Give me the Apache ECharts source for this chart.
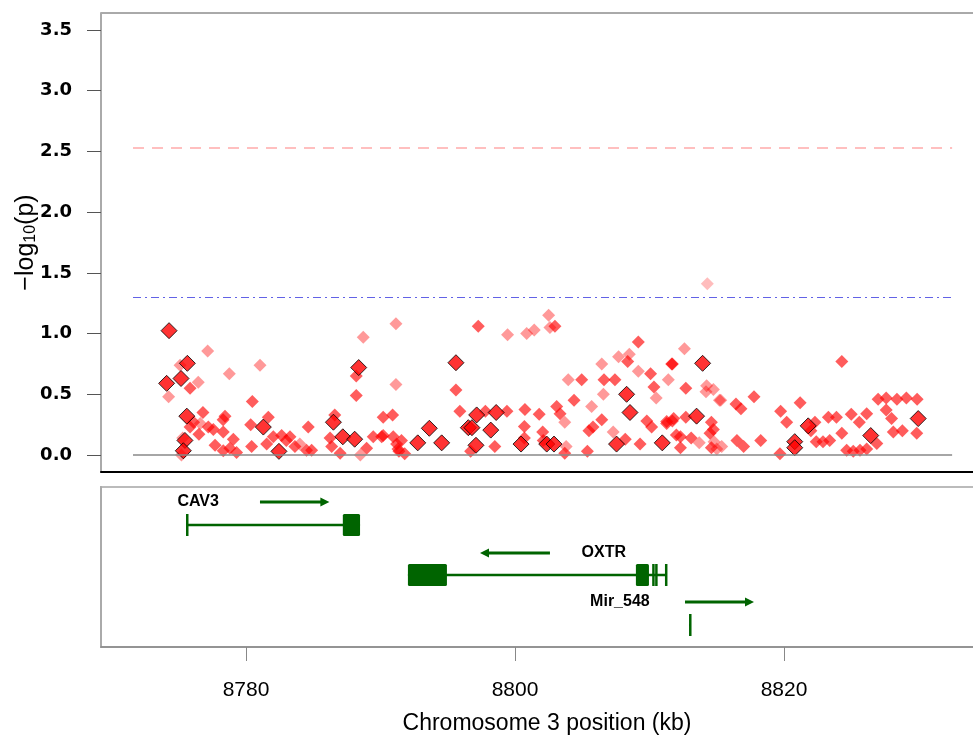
<!DOCTYPE html>
<html lang="en">
<head>
<meta charset="UTF-8">
<title>OXTR region association plot</title>
<script src="https://cdn.jsdelivr.net/npm/echarts@6/dist/echarts.min.js"></script>
<style>
  html, body { margin: 0; padding: 0; background: #fff; overflow: hidden; }
  /* plot box runs past the right edge of the window, as in the source figure */
  #chart { width: 1000px; height: 738px; }
</style>
</head>
<body>
<div id="chart"></div>
<script>
// axis ticks
var xTicks = [8780, 8800, 8820];
var yTicks = [0, 0.5, 1, 1.5, 2, 2.5, 3, 3.5];
var thresholds = [2.53, 1.3];      // dashed pink, dash-dot blue
var lineSpan = [8771.6, 8832.5];   // x extent of the horizontal guide lines

// SNPs: [position kb, -log10(p)]
var bigSnps = [
  [8774.28,1.024],[8775.64,0.755],[8774.1,0.59],[8775.17,0.63],[8775.6,0.32],[8775.46,0.12],[8775.34,0.035],
  [8781.29,0.23],[8782.45,0.03],[8786.5,0.27],[8787.2,0.15],[8788.08,0.13],[8788.38,0.72],
  [8795.61,0.76],[8793.63,0.22],[8792.77,0.10],[8794.55,0.10],[8797.15,0.33],[8796.53,0.225],[8796.8,0.225],
  [8798.2,0.205],[8798.6,0.35],[8797.1,0.08],[8800.45,0.09],[8802.36,0.09],[8802.9,0.09],
  [8808.3,0.50],[8808.55,0.35],[8807.55,0.09],[8810.95,0.10],
  [8813.95,0.755],[8813.5,0.32],[8821.8,0.24],[8820.8,0.11],[8820.8,0.06],[8826.45,0.16],[8829.98,0.30]
];
var midSnps = [
  [8775.84,0.55],[8780.47,0.44],[8788.2,0.65],[8788.2,0.49],[8776.8,0.35],[8778.44,0.32],[8778.3,0.29],
  [8781.66,0.31],[8780.35,0.25],[8784.63,0.23],[8786.6,0.33],[8790.2,0.31],[8790.9,0.33],[8775.84,0.23],
  [8777.2,0.23],[8777.57,0.21],[8776.5,0.17],[8778.31,0.19],[8779.06,0.13],[8780.42,0.07],[8781.54,0.09],
  [8777.7,0.08],[8778.31,0.035],[8779.3,0.02],[8778.8,0.055],[8782.03,0.15],[8782.65,0.16],[8783.27,0.15],
  [8783.0,0.12],[8783.64,0.07],[8784.5,0.04],[8784.88,0.04],[8786.25,0.14],[8786.37,0.07],[8787.0,0.015],
  [8788.97,0.055],[8789.46,0.15],[8790.09,0.15],[8790.95,0.15],[8791.2,0.09],[8791.37,0.03],[8776.1,0.27],
  [8797.27,1.06],[8802.97,1.06],[8795.61,0.535],[8809.17,0.93],[8808.38,0.77],[8804.96,0.62],[8806.62,0.62],
  [8807.43,0.62],[8810.08,0.67],[8810.33,0.56],[8811.7,0.75],[8804.39,0.45],[8803.1,0.40],[8803.35,0.34],
  [8800.74,0.375],[8801.8,0.335],[8799.4,0.36],[8797.8,0.36],[8790.2,0.16],[8791.56,0.12],[8791.8,0.01],
  [8791.3,0.05],[8800.7,0.235],[8802.06,0.19],[8802.1,0.12],[8798.5,0.07],[8803.7,0.015],[8805.38,0.03],
  [8805.5,0.20],[8805.8,0.23],[8806.45,0.29],[8809.8,0.28],[8810.16,0.23],[8811.28,0.275],[8811.8,0.30],
  [8812.0,0.165],[8809.3,0.09],[8808.2,0.13],[8795.9,0.36],[8796.7,0.03],[8800.7,0.14],
  [8811.65,0.75],[8812.7,0.55],[8817.77,0.48],[8816.43,0.42],[8816.8,0.38],[8824.3,0.77],[8827.0,0.46],
  [8827.6,0.47],[8828.4,0.46],[8829.1,0.47],[8829.9,0.46],[8827.6,0.37],[8828.0,0.30],[8828.13,0.19],
  [8828.8,0.20],[8829.87,0.18],[8826.15,0.34],[8825.0,0.335],[8825.6,0.27],[8826.9,0.095],[8824.66,0.04],
  [8825.15,0.03],[8825.65,0.04],[8826.15,0.05],[8824.3,0.18],[8823.3,0.31],[8823.9,0.31],[8821.2,0.43],
  [8819.75,0.36],[8820.2,0.27],[8819.7,0.01],[8822.0,0.20],[8822.4,0.11],[8822.9,0.11],[8823.4,0.12],
  [8822.3,0.27],[8818.27,0.12],[8816.5,0.12],[8817.0,0.07],[8811.28,0.26],[8811.7,0.28],[8812.7,0.31],
  [8814.6,0.27],[8814.75,0.21],[8814.5,0.18],[8812.3,0.15],[8813.1,0.14],[8812.3,0.06],[8814.6,0.06]
];
var paleSnps = [
  [8777.15,0.857],[8778.76,0.67],[8781.04,0.74],[8776.45,0.60],[8774.25,0.48],[8788.72,0.97],[8791.15,1.08],
  [8791.15,0.58],[8775.1,0.74],[8788.5,0.0],[8784.0,0.09],[8775.2,0.0],[8776.6,0.26],[8775.3,0.14],
  [8799.45,0.99],[8800.87,1.0],[8801.43,1.03],[8802.5,1.15],[8802.6,1.05],[8806.45,0.75],[8807.7,0.81],
  [8808.5,0.83],[8803.96,0.62],[8806.57,0.50],[8809.17,0.69],[8811.4,0.62],[8805.7,0.40],[8803.7,0.27],
  [8810.5,0.47],[8807.3,0.19],[8803.8,0.07],[8812.6,0.875],
  [8814.25,0.57],[8814.75,0.54],[8815.2,0.45],[8815.3,0.45],[8814.2,0.52],[8813.7,0.10],[8815.37,0.07],
  [8815.0,0.05],[8814.8,0.11]
];
var faintSnps = [[8814.3,1.41]];

// gene track: row is a track position (0 top .. 16 bottom)
var genes = [
  { name: 'CAV3', start: 8775.54, end: 8788.48, row: 3.8,
    exons: [[8775.54, 8775.6], [8787.2, 8788.48]] },
  { name: 'OXTR', start: 8792.04, end: 8811.23, row: 8.8,
    exons: [[8792.04, 8794.94], [8808.99, 8809.96], [8810.2, 8810.28], [8810.42, 8810.5], [8811.15, 8811.23]] },
  { name: 'Mir_548', start: 8812.94, end: 8813.0, row: 13.8,
    exons: [[8812.94, 8813.0]] }
];
// strand arrows: [from, to, row]
var geneArrows = [[8781.04, 8786.2, 1.5], [8802.6, 8797.4, 6.6], [8812.64, 8817.77, 11.5]];
// labels: [x, row, text, align]
var geneLabels = [[8774.9, 1.5, 'CAV3', 'left'], [8806.6, 6.6, 'OXTR', 'center'], [8807.8, 11.5, 'Mir_548', 'center']];

var green = '#006400';
var xMin = 8769.22, xMax = 8835.54;

function hLine(y, color, type, width) {
  return [
    { coord: [lineSpan[0], y], lineStyle: { color: color, type: type, width: width } },
    { coord: [lineSpan[1], y] }
  ];
}

function renderGene(params, api) {
  var g = genes[params.dataIndex];
  var a = api.coord([g.start, g.row]);
  var b = api.coord([g.end, g.row]);
  var kids = [{
    type: 'line',
    shape: { x1: a[0], y1: a[1], x2: b[0], y2: b[1] },
    style: { stroke: green, lineWidth: 2.5 }
  }];
  g.exons.forEach(function (e) {
    var p = api.coord([e[0], g.row]);
    var q = api.coord([e[1], g.row]);
    var w = Math.max(2.5, q[0] - p[0]);
    kids.push({
      type: 'rect',
      shape: { x: p[0], y: p[1] - 11, width: w, height: 22, r: w > 6 ? 1.5 : 0 },
      style: { fill: green }
    });
  });
  return { type: 'group', children: kids };
}

function renderArrow(params, api) {
  var p = api.coord([api.value(0), api.value(2)]);
  var q = api.coord([api.value(1), api.value(2)]);
  var dir = q[0] > p[0] ? 1 : -1;
  return {
    type: 'group',
    children: [{
      type: 'line',
      shape: { x1: p[0], y1: p[1], x2: q[0] - dir * 6, y2: q[1] },
      style: { stroke: green, lineWidth: 3 }
    }, {
      type: 'polygon',
      shape: { points: [[q[0], q[1]], [q[0] - dir * 9, q[1] - 4.5], [q[0] - dir * 9, q[1] + 4.5]] },
      style: { fill: green }
    }]
  };
}

function renderLabel(params, api) {
  var l = geneLabels[params.dataIndex];
  var p = api.coord([l[0], l[1]]);
  return {
    type: 'text',
    style: {
      text: l[2], x: p[0], y: p[1], align: l[3], verticalAlign: 'middle',
      fill: '#000', font: 'bold 16px "Liberation Sans", Arial, sans-serif'
    }
  };
}

var chart = echarts.init(document.getElementById('chart'));
chart.setOption({
  animation: false,
  backgroundColor: '#fff',
  textStyle: { fontFamily: '"Liberation Sans", Arial, sans-serif' },
  grid: [
    { left: 101, top: 13, width: 892, height: 459, show: true, borderColor: '#555', borderWidth: 1,
      containLabel: false, outerBoundsMode: 'none' },
    { left: 101, top: 487, width: 892, height: 160, show: true, borderColor: '#bbb', borderWidth: 2,
      containLabel: false, outerBoundsMode: 'none' }
  ],
  xAxis: [
    { gridIndex: 0, type: 'value', min: xMin, max: xMax,
      axisLine: { show: true, onZero: false, lineStyle: { color: '#000', width: 2 } },
      axisTick: { show: false }, axisLabel: { show: false }, splitLine: { show: false } },
    { gridIndex: 1, type: 'value', min: xMin, max: xMax,
      axisLine: { show: true, onZero: false, lineStyle: { color: '#888', width: 1.5 } },
      axisTick: { show: true, length: 14, customValues: xTicks, lineStyle: { color: '#888' } },
      axisLabel: { customValues: xTicks, fontSize: 21, color: '#000', margin: 33,
        formatter: function (v) { return String(v); } },
      splitLine: { show: false },
      name: 'Chromosome 3 position (kb)', nameLocation: 'middle', nameGap: 65, nameMoveOverlap: false,
      nameTextStyle: { fontSize: 23, color: '#000' } }
  ],
  yAxis: [
    { gridIndex: 0, type: 'value', min: -0.14, max: 3.64,
      axisLine: { show: true, lineStyle: { color: '#aaa', width: 2 } },
      axisTick: { show: true, length: 14, customValues: yTicks, lineStyle: { color: '#555' } },
      axisLabel: { customValues: yTicks, fontSize: 18, fontWeight: 'bold', color: '#000', margin: 29,
        fontFamily: '"DejaVu Sans", sans-serif',
        formatter: function (v) { return v.toFixed(1); } },
      splitLine: { show: false },
      name: '\u2212log{sub|10}(p)', nameLocation: 'middle', nameGap: 62, nameRotate: 90,
      nameMoveOverlap: false,
      nameTextStyle: { fontSize: 25, color: '#000',
        rich: { sub: { fontSize: 16, verticalAlign: 'bottom', padding: [10, 0, 0, 0] } } } },
    { gridIndex: 1, type: 'value', min: 0, max: 16, inverse: true,
      axisLine: { show: true, lineStyle: { color: '#aaa', width: 2 } },
      axisTick: { show: false }, axisLabel: { show: false }, splitLine: { show: false } }
  ],
  series: [
    { type: 'scatter', xAxisIndex: 0, yAxisIndex: 0, data: paleSnps, symbol: 'diamond', symbolSize: 13,
      itemStyle: { color: 'rgba(255,0,0,0.5)' }, silent: true,
      markLine: { silent: true, symbol: 'none', label: { show: false },
        data: [
          hLine(0, '#888', 'solid', 1.5),
          hLine(thresholds[0], '#ffaaaa', [11, 8], 1.5),
          hLine(thresholds[1], '#6262e6', [8, 4, 2, 4], 1.2)
        ] } },
    { type: 'scatter', xAxisIndex: 0, yAxisIndex: 0, data: faintSnps, symbol: 'diamond', symbolSize: 13,
      itemStyle: { color: 'rgba(255,0,0,0.33)' }, silent: true },
    { type: 'scatter', xAxisIndex: 0, yAxisIndex: 0, data: midSnps, symbol: 'diamond', symbolSize: 13,
      itemStyle: { color: 'rgba(255,0,0,0.8)' }, silent: true },
    { type: 'scatter', xAxisIndex: 0, yAxisIndex: 0, data: bigSnps, symbol: 'diamond', symbolSize: 16,
      itemStyle: { color: '#ff0000', borderColor: '#000', borderWidth: 1 }, silent: true },
    { type: 'custom', xAxisIndex: 1, yAxisIndex: 1, renderItem: renderGene, silent: true,
      data: genes.map(function (g) { return [g.start, g.row]; }) },
    { type: 'custom', xAxisIndex: 1, yAxisIndex: 1, renderItem: renderArrow, silent: true,
      encode: { x: [0, 1], y: 2 }, data: geneArrows },
    { type: 'custom', xAxisIndex: 1, yAxisIndex: 1, renderItem: renderLabel, silent: true,
      data: geneLabels.map(function (l) { return [l[0], l[1]]; }) }
  ]
});
</script>
</body>
</html>
